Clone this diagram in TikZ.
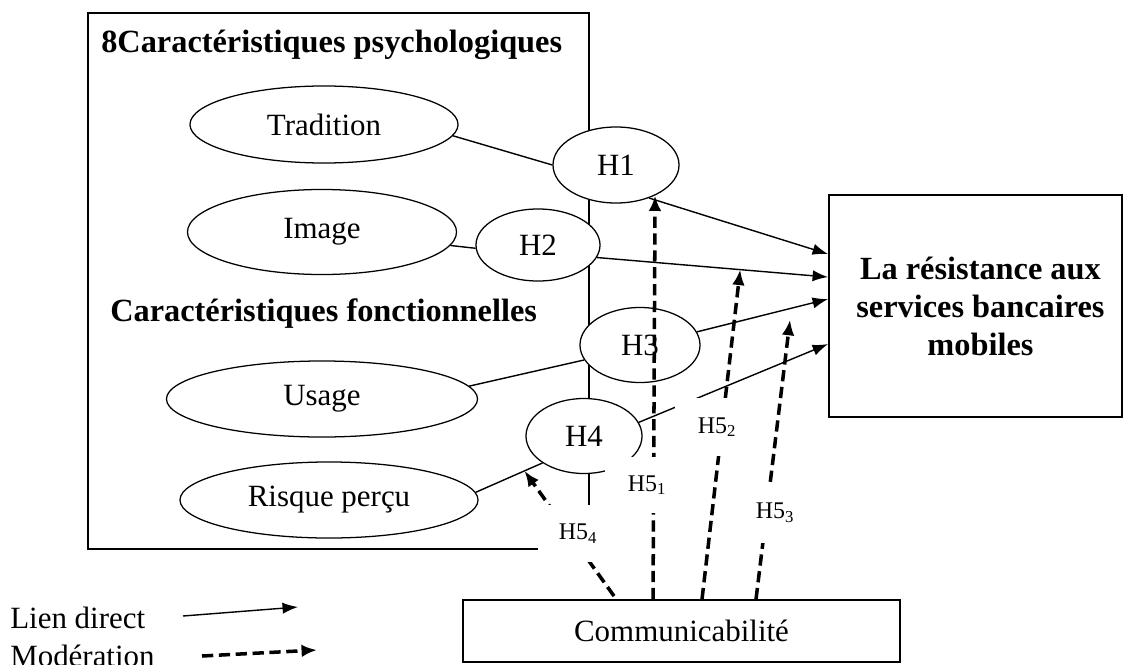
\documentclass[tikz,border=0pt]{standalone}
\usepackage{fontspec}
\setmainfont{Liberation Serif}
\usepackage{tikz}
\usetikzlibrary{shapes.geometric,arrows.meta,calc}

\tikzset{
  var/.style={draw, ellipse, line width=0.9pt, fill=white, inner sep=0pt,
    font=\fontsize{22}{26}\selectfont},
  frame/.style={draw, rectangle, line width=1.3pt, inner sep=0pt},
  direct/.style={line width=1pt, -{Latex[length=11pt,width=8pt]}},
  moder/.style={line width=2.5pt, dash pattern=on 8pt off 4pt, -{Latex[length=11pt,width=9pt]}},
  hlabel/.style={fill=white, inner sep=0pt, minimum width=2.1cm, minimum height=1.42cm,
    font=\fontsize{17}{19}\selectfont},
  bigtitle/.style={anchor=west, inner sep=0pt, font=\fontsize{23}{27}\selectfont\bfseries}
}

\begin{document}
\begin{tikzpicture}[x=0.025cm, y=-0.025cm]
  \useasboundingbox (0,0) rectangle (1123,664);

  % Draw the frame of the characteristics
  \node[frame, minimum width=12.525cm, minimum height=13.4cm] (group) at (338.5,281) {};
  \node[bigtitle] (psy) at (101,45) {8Caractéristiques psychologiques};
  \node[bigtitle] (fonc) at (110,314) {Caractéristiques fonctionnelles};

  % Draw the variables
  \node[var, minimum width=6.7cm, minimum height=1.925cm] (trad) at (324,124.5) {Tradition};
  \node[var, minimum width=6.725cm, minimum height=2.125cm] (img) at (322,232) {Image};
  \node[var, minimum width=7.775cm, minimum height=1.9cm] (use) at (322,399) {Usage};
  \node[var, minimum width=7.45cm, minimum height=1.9cm] (risk) at (329,500) {Risque perçu};

  % Draw the hypotheses
  \node[var, minimum width=3.15cm, minimum height=1.9cm] (H1) at (616,165) {H1};
  \node[var, minimum width=3.1cm, minimum height=1.8cm] (H2) at (538,245) {H2};
  \node[var, minimum width=3.0cm, minimum height=1.875cm] (H3) at (640,345) {H3};
  \node[var, minimum width=2.9cm, minimum height=1.875cm] (H4) at (584,436) {H4};

  % Draw the outcome and the moderator
  \node[frame, minimum width=7.325cm, minimum height=5.55cm, align=center,
    font=\fontsize{23}{27}\selectfont\bfseries] (res) at (975.5,306)
    {\hspace*{7pt}La résistance aux\\\hspace*{7pt}services bancaires\\\hspace*{7pt}mobiles};
  \node[frame, minimum width=10.925cm, minimum height=1.55cm,
    font=\fontsize{22}{26}\selectfont] (comm) at (681.5,631) {Communicabilité};

  \coordinate (r1) at ($(res.north west)+(0,60)$);
  \coordinate (r2) at ($(res.north west)+(0,83)$);
  \coordinate (r3) at ($(res.north west)+(0,105)$);
  \coordinate (r4) at ($(res.north west)+(0,150)$);

  % Draw the direct links
  \draw[line width=1pt] (trad.-5) -- (H1.west);
  \draw[line width=1pt] (img.-6) -- (H2.183);
  \draw[line width=1pt] (use.5) -- (H3.195);
  \draw[line width=1pt] (risk.3) -- coordinate[pos=0.73] (t4) (H4.213);
  \draw[direct] (H1.-45) -- (r1);
  \draw[direct] (H2.-12) -- coordinate[pos=0.62] (t2) (r2);
  \draw[direct] (H3.13) -- coordinate[pos=0.71] (t3) (r3);
  \draw[direct] (H4.14) -- (r4);

  % Draw the moderation links
  \coordinate (m1) at ($(comm.north west)+(191,0)$);
  \coordinate (m2) at ($(comm.north west)+(240,0)$);
  \coordinate (m3) at ($(comm.north west)+(294,0)$);
  \coordinate (m4) at ($(comm.north west)+(152,-3)$);
  \draw[moder] (m1) -- (H1.-38);
  \draw[moder] (m2) -- (t2);
  \draw[moder] (m3) -- ([yshift=-8pt]t3);
  \draw[moder] (m4) -- (t4);

  % Labels of the moderation links
  \node[hlabel] (H51) at (647,485) {H5\textsubscript{1}};
  \node[hlabel, minimum height=1.45cm] (H52) at (717,427) {H5\textsubscript{2}};
  \node[hlabel, minimum width=1.5cm, minimum height=1.5cm] (H53) at (775,513) {H5\textsubscript{3}};
  \node[hlabel, minimum width=2cm] (H54) at (578,533.5) {H5\textsubscript{4}};

  % Legend
  \node[anchor=west, inner sep=0pt, font=\fontsize{22}{26}\selectfont] (lien) at (10,618) {Lien direct};
  \node[anchor=west, inner sep=0pt, font=\fontsize{22}{26}\selectfont] (mod) at (10,656) {Modération};
  \coordinate (la) at (183,616);
  \coordinate (lb) at (298,607);
  \coordinate (lc) at (202,656);
  \coordinate (ld) at (317,650);
  \draw[direct] (la) -- (lb);
  \draw[moder] (lc) -- (ld);
\end{tikzpicture}
\end{document}
